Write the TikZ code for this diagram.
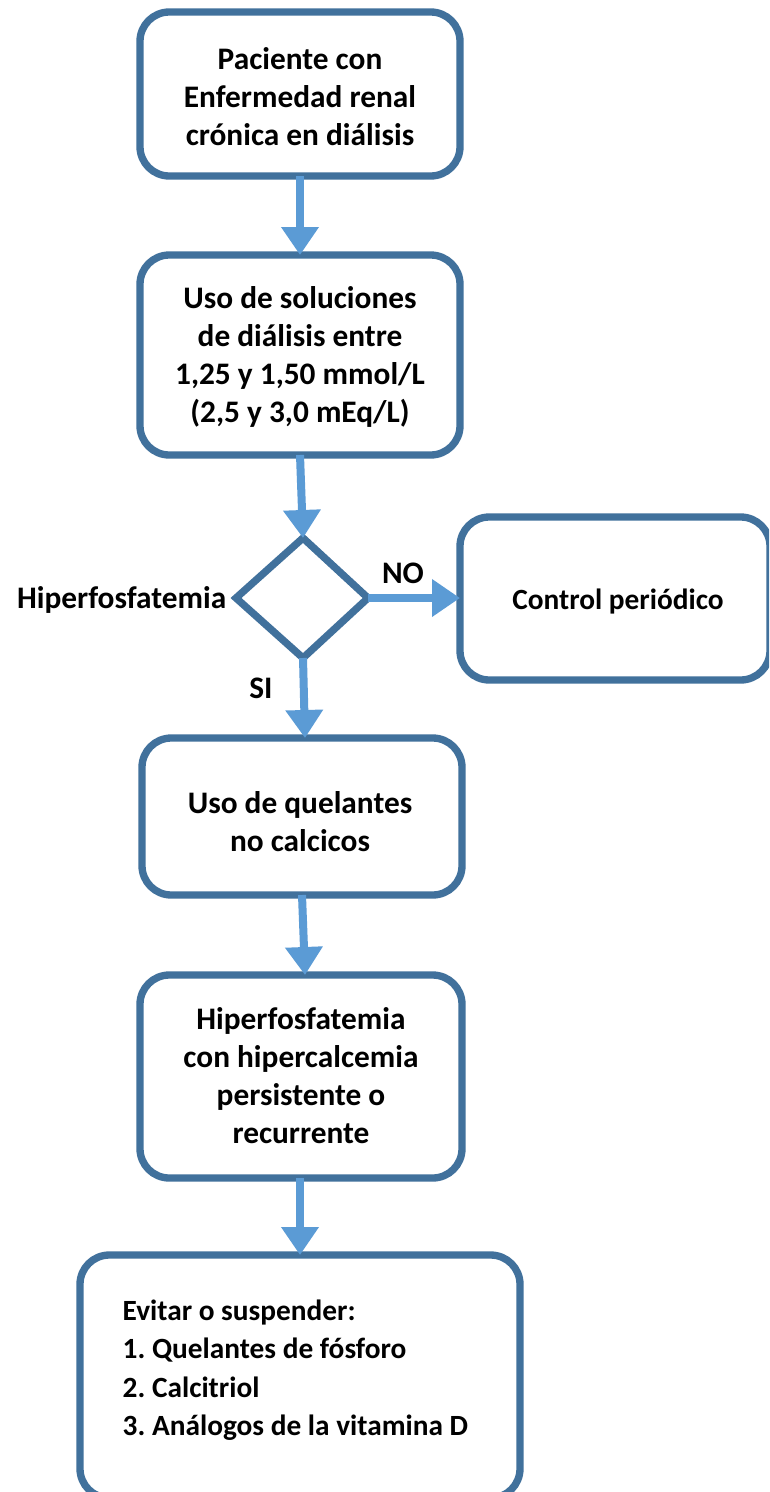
\documentclass[tikz,border=0pt]{standalone}
\usepackage{fontspec}
\setmainfont{Carlito}
\usetikzlibrary{arrows.meta}
\definecolor{boxblue}{HTML}{41719C}
\definecolor{arrblue}{HTML}{5B9BD5}
\frenchspacing
\begin{document}
\begin{tikzpicture}[x=0.75pt,y=-0.75pt,
  box/.style={draw=boxblue,line width=5.5pt,rounded corners=22pt,fill=white},
  arr/.style={draw=arrblue,line width=6pt,-{Triangle[width=27pt,length=21pt]}},
  txt/.style={font=\fontsize{23.5}{28.5}\selectfont\bfseries,align=center},
  stxt/.style={font=\fontsize{22}{28.8}\selectfont\bfseries},
  lbl/.style={font=\fontsize{23.5}{26}\selectfont\bfseries}]
\clip (0,0) rectangle (769,1492);
\fill[white] (0,0) rectangle (769,1492);
% boxes
\path[box] (140,12) rectangle (460,176);
\node[txt] (b1) at (300,97) {Paciente con\\Enfermedad renal\\crónica en diálisis};
\coordinate (b1s) at (300,176);
\coordinate (b2n) at (300,255);
\path[box] (140,255) rectangle (460,455);
\node[txt] (b2) at (300,357) {Uso de soluciones\\de diálisis entre\\1,25 y 1,50 mmol/L\\(2,5 y 3,0 mEq/L)};
\coordinate (b2s) at (300,455);
% diamond
\draw[draw=boxblue,line width=5.5pt,line join=miter,fill=white]
  (303,538) coordinate (dn) -- (368,598) coordinate (de) -- (303,658) coordinate (ds) -- (236,598) coordinate (dw) -- cycle;
\node[lbl,anchor=east] (hip) at (231,600) {Hiperfosfatemia};
\path[box] (460,517) rectangle (770,680);
\node[stxt] (cp) at (618,602) {Control periódico};
\coordinate (cpw) at (460,598);
\node[lbl] (no) at (403,573) {NO};
\node[lbl] (si) at (261,688) {SI};
\path[box] (142,738) rectangle (462,895);
\node[txt] (b3) at (300,822) {Uso de quelantes\\no calcicos};
\coordinate (b3n) at (305,738);
\coordinate (b3s) at (302,895);
\path[box] (140,975) rectangle (462,1178);
\node[txt] (b4) at (301,1076) {Hiperfosfatemia\\con hipercalcemia\\persistente o\\recurrente};
\coordinate (b4n) at (305,975);
\coordinate (b4s) at (300,1178);
\path[box] (80,1255) rectangle (520,1498);
\node[stxt,align=left,anchor=west] (b5) at (118,1370) {Evitar o suspender:\\1. Quelantes de fósforo\\2. Calcitriol\\3. Análogos de la vitamina D};
\coordinate (b5n) at (300,1255);
% arrows
\draw[arr] (b1s) -- (b2n);
\draw[arr] (b2s) -- (dn);
\draw[arr] (de) -- (cpw);
\draw[arr] (ds) -- (b3n);
\draw[arr] (b3s) -- (b4n);
\draw[arr] (b4s) -- (b5n);
\end{tikzpicture}
\end{document}
